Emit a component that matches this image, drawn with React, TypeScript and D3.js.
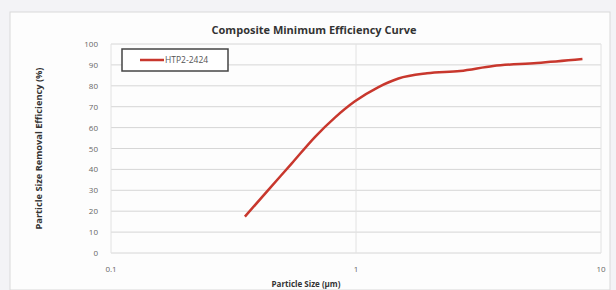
import React from 'react';
import * as d3 from 'd3';

const sizes = [0.352, 0.438, 0.547, 0.681, 0.82, 0.99, 1.23, 1.49, 1.95, 2.66, 3.63, 5.48, 8.4];
const efficiency = [17.4, 30.1, 42.9, 55.6, 64.8, 72.6, 79.3, 83.5, 86, 87.1, 89.5, 90.9, 92.8];
const yTicks = [0, 10, 20, 30, 40, 50, 60, 70, 80, 90, 100];
const xTicks = [0.1, 1, 10];
const seriesName = 'HTP2-2424';

const W = 616;
const H = 290;
const font = 'Open Sans, Liberation Sans, sans-serif';

export default function App() {
  const x = d3.scaleLog().domain([0.1, 10]).range([111, 601]);
  const y = d3.scaleLinear().domain([0, 100]).range([253, 44]);

  const line = d3
    .line<number>()
    .x((d, i) => x(sizes[i]))
    .y((d) => y(d))
    .curve(d3.curveMonotoneX);

  return (
    <svg width={W} height={H} style={{ position: 'absolute', left: 0, top: 0, background: '#f3f3f6' }}>
      <rect x={10} y={12} width={600} height={H - 12} fill="#fdfdfd" stroke="#d9d9d9" />
      <text x={314} y={34} textAnchor="middle" fontFamily={font} fontSize={11} fontWeight="bold" fill="#333">
        Composite Minimum Efficiency Curve
      </text>

      {yTicks.map((t) => (
        <g key={t}>
          <line x1={x(0.1)} x2={x(10)} y1={y(t)} y2={y(t)} stroke="#d6d6d6" strokeWidth={1} />
          <text x={98} y={y(t) + 3} textAnchor="end" fontFamily={font} fontSize={8} fill="#666">
            {t}
          </text>
        </g>
      ))}
      {xTicks.map((t) => (
        <g key={t}>
          <line x1={x(t)} x2={x(t)} y1={y(100)} y2={y(0)} stroke="#e2e2e2" strokeWidth={1} />
          <text x={x(t)} y={272} textAnchor="middle" fontFamily={font} fontSize={8} fill="#666">
            {t}
          </text>
        </g>
      ))}

      <path d={line(efficiency) || ''} fill="none" stroke="#c8372d" strokeWidth={2.5} />

      <rect x={122} y={49} width={106} height={22} fill="#fff" stroke="#444" strokeWidth={1.5} />
      <line x1={140} x2={164} y1={60} y2={60} stroke="#c8372d" strokeWidth={2.5} />
      <text x={165} y={63} fontFamily={font} fontSize={8.5} fill="#555">
        {seriesName}
      </text>

      <text
        transform={`translate(42,${y(50)}) rotate(-90)`}
        textAnchor="middle"
        fontFamily={font}
        fontSize={8}
        fontWeight="bold"
        fill="#333"
        textLength={162}
        lengthAdjust="spacingAndGlyphs"
      >
        Particle Size Removal Efficiency (%)
      </text>
      <text x={306} y={287} textAnchor="middle" fontFamily={font} fontSize={8} fontWeight="bold" fill="#333">
        Particle Size (µm)
      </text>
    </svg>
  );
}
